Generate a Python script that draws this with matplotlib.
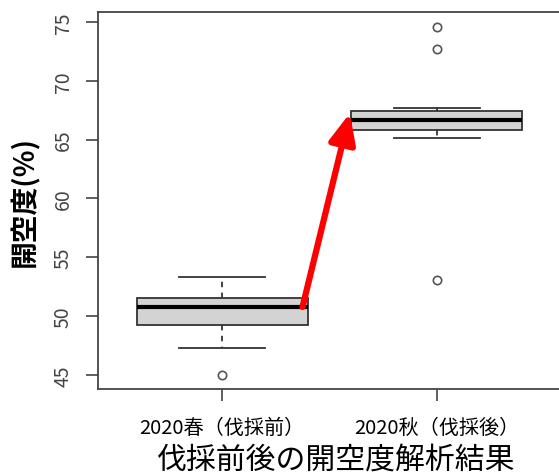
import matplotlib
matplotlib.use("Agg")
import matplotlib.pyplot as plt

plt.rcParams['font.family'] = ['Noto Sans CJK JP', 'DejaVu Sans']

# box statistics
labels = ["2020春（伐採前）", "2020秋（伐採後）"]
q1 = [49.2, 65.85]
med = [50.8, 66.65]
q3 = [51.5, 67.4]
whislo = [47.3, 65.1]
whishi = [53.3, 67.7]
fliers = [[45.0], [74.6, 72.7, 53.1]]

stats = []
for i in range(len(labels)):
    stats.append(dict(label=labels[i], q1=q1[i], med=med[i], q3=q3[i],
                      whislo=whislo[i], whishi=whishi[i], fliers=fliers[i]))

fig = plt.figure(figsize=(5.59, 4.77), dpi=100)
ax = fig.add_axes([98 / 559, 1 - 390 / 477, 463 / 559, 377 / 477])

edge = "#333333"
ax.bxp(stats, positions=[1, 2], widths=0.8, patch_artist=True,
       boxprops=dict(facecolor="#d3d3d3", edgecolor=edge, linewidth=1.3),
       medianprops=dict(color="black", linewidth=3),
       whiskerprops=dict(color=edge, linewidth=1.3, linestyle=(0, (3, 3))),
       capprops=dict(color=edge, linewidth=1.3),
       flierprops=dict(marker="o", markerfacecolor="none", markeredgecolor="#555555",
                       markersize=6, markeredgewidth=1.2),
       capwidths=0.4)

ax.set_xlim(0.42, 2.58)
ax.set_ylim(43.8, 75.85)
ax.set_yticks([45, 50, 55, 60, 65, 70, 75])
for s in ax.spines.values():
    s.set_color("#444444")
    s.set_linewidth(1.3)

ax.tick_params(axis="y", length=8.5, width=1.2, color="#444444", pad=9,
               labelsize=14, labelcolor="#444444")
ax.tick_params(axis="x", length=8.5, width=1.2, color="#444444", pad=12,
               labelsize=14.5, labelcolor="black")
for t in ax.get_yticklabels():
    t.set_rotation(90)
    t.set_va("center")

ax.set_ylabel("開空度(%)", fontsize=20, fontweight="bold", labelpad=10)
fig.text(336 / 559, 1 - 460 / 477, "伐採前後の開空度解析結果", fontsize=21.5,
         ha="center", va="center")

# red arrow from spring median to autumn box
ax.annotate("", xy=(1.595, 67.25), xytext=(1.374, 50.77),
            arrowprops=dict(arrowstyle="-|>,head_length=0.9,head_width=0.4",
                            color="red", lw=4.5, mutation_scale=20,
                            shrinkA=0, shrinkB=0))

fig.savefig("out.png", dpi=100)
